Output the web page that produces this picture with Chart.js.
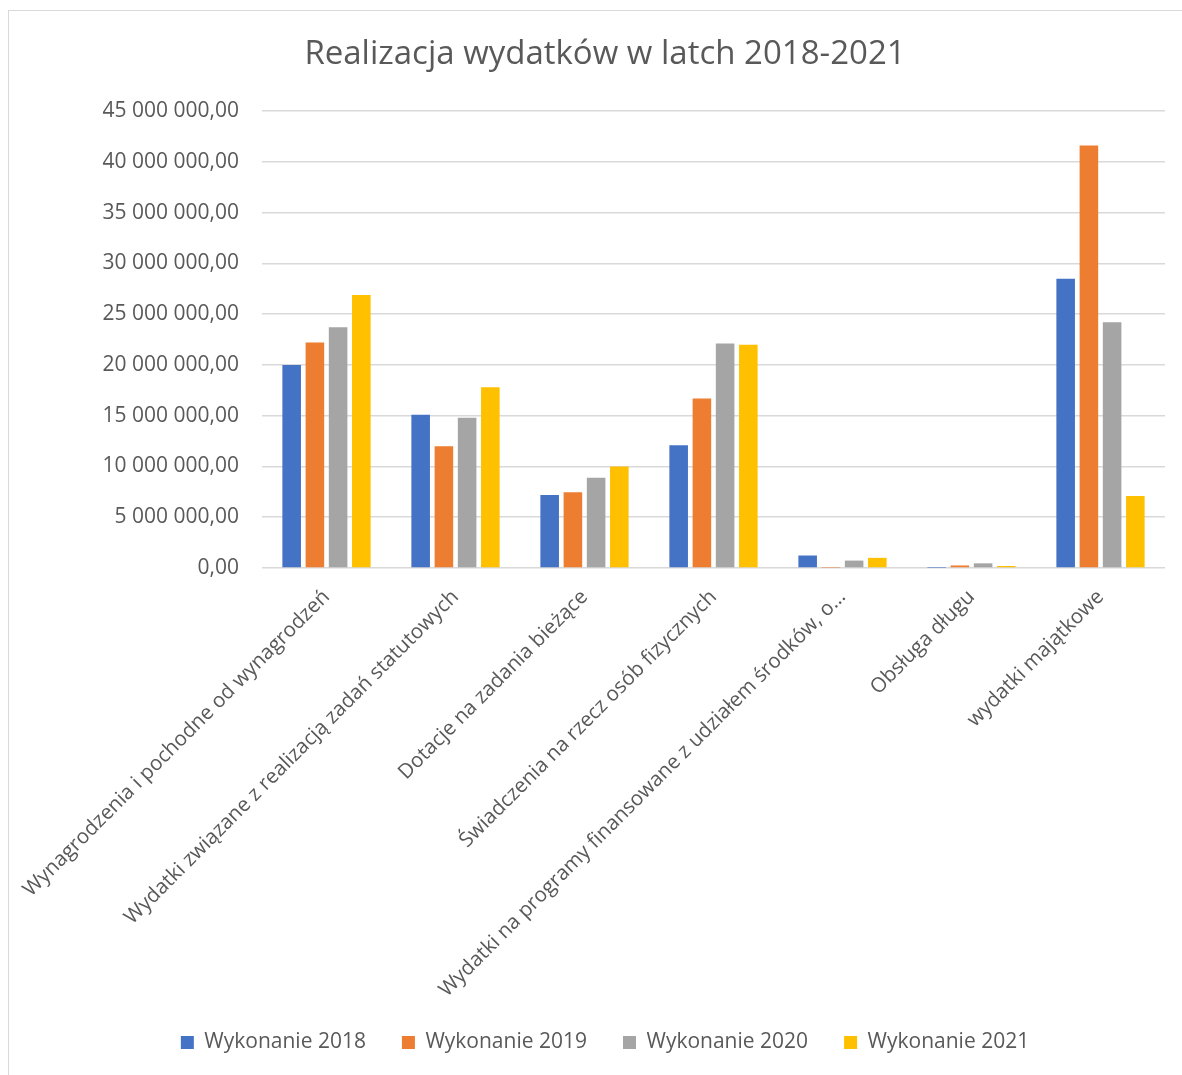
<!DOCTYPE html>
<html lang="pl">
<head>
<meta charset="utf-8">
<title>Realizacja wydatków w latch 2018-2021</title>
<script src="https://cdn.jsdelivr.net/npm/chart.js@4/dist/chart.umd.min.js"></script>
<style>
    html, body { margin: 0; padding: 0; background: #fff; overflow: hidden; }
    #frame {
        position: absolute;
        left: 8px;
        top: 10px;
        width: 1173px;
        height: 1080px;
        border-top: 1px solid #d9d9d9;
        border-left: 1px solid #d9d9d9;
    }
    #wrap {
        position: relative;
        width: 1173px;
        height: 1052px;
    }
</style>
</head>
<body>
<div id="frame"><div id="wrap"><canvas id="chart"></canvas></div></div>
<script>
const categories = [
    'Wynagrodzenia i pochodne od wynagrodzeń',
    'Wydatki związane z realizacją zadań statutowych',
    'Dotacje na zadania bieżące',
    'Świadczenia na rzecz osób fizycznych',
    'Wydatki na programy finansowane z udziałem środków, o…',
    'Obsługa długu',
    'wydatki majątkowe'
];

const wykonanie2018 = [20000000, 15100000, 7200000, 12100000, 1230000, 20000, 28500000];
const wykonanie2019 = [22200000, 12000000, 7450000, 16700000, 30000, 250000, 41600000];
const wykonanie2020 = [23700000, 14800000, 8900000, 22100000, 730000, 460000, 24200000];
const wykonanie2021 = [26900000, 17800000, 10000000, 22000000, 1000000, 200000, 7080000];

const yTicks = [0, 5000000, 10000000, 15000000, 20000000, 25000000, 30000000, 35000000, 40000000, 45000000];

const textColor = '#595959';
const gridColor = '#d9d9d9';
const fontFamily = '"Open Sans", "Liberation Sans", sans-serif';

// "45 000 000,00"
function formatPl(v) {
    const parts = Math.round(v).toString().replace(/\B(?=(\d{3})+(?!\d))/g, ' ');
    return parts + ',00';
}

const makeSet = (label, data, color) => ({
    label,
    data,
    backgroundColor: color,
    borderWidth: 0,
    barPercentage: 0.8,
    categoryPercentage: 0.72
});

new Chart(document.getElementById('chart'), {
    type: 'bar',
    data: {
        labels: categories,
        datasets: [
            makeSet('Wykonanie 2018', wykonanie2018, '#4472C4'),
            makeSet('Wykonanie 2019', wykonanie2019, '#ED7D31'),
            makeSet('Wykonanie 2020', wykonanie2020, '#A5A5A5'),
            makeSet('Wykonanie 2021', wykonanie2021, '#FFC000')
        ]
    },
    options: {
        responsive: true,
        maintainAspectRatio: false,
        animation: false,
        layout: {
            padding: { left: 36, right: 17, top: 0, bottom: 0 }
        },
        plugins: {
            title: {
                display: true,
                text: 'Realizacja wydatków w latch 2018-2021',
                color: textColor,
                font: { family: fontFamily, size: 33, weight: 'normal' },
                padding: { top: 24, bottom: 36.5 }
            },
            legend: {
                display: true,
                position: 'bottom',
                labels: {
                    color: textColor,
                    font: { family: fontFamily, size: 21 },
                    boxWidth: 13,
                    boxHeight: 13,
                    padding: 36
                }
            },
            tooltip: { enabled: false }
        },
        scales: {
            x: {
                grid: { display: false },
                border: { display: false },
                ticks: {
                    color: textColor,
                    font: { family: fontFamily, size: 20.5 },
                    minRotation: 45,
                    maxRotation: 45,
                    autoSkip: false,
                    padding: 9
                },
                afterFit: function(scale) {
                    scale.height = 428;
                    // long rotated labels may run past the left edge / axis box, like in the original
                    scale.paddingLeft = 0;
                    scale.paddingRight = 0;
                    scale._computeLabelArea = () => undefined;
                }
            },
            y: {
                min: 0,
                max: 45000000,
                afterBuildTicks: function(scale) {
                    scale.ticks = yTicks.map(v => ({ value: v }));
                },
                grid: {
                    color: gridColor,
                    lineWidth: 1.5,
                    drawTicks: false
                },
                border: { display: false },
                ticks: {
                    color: textColor,
                    font: { family: fontFamily, size: 21 },
                    padding: 23,
                    callback: function(value) {
                        return formatPl(value);
                    }
                },
                afterFit: function(scale) {
                    scale.width = 217;
                }
            }
        }
    }
});
</script>
</body>
</html>
